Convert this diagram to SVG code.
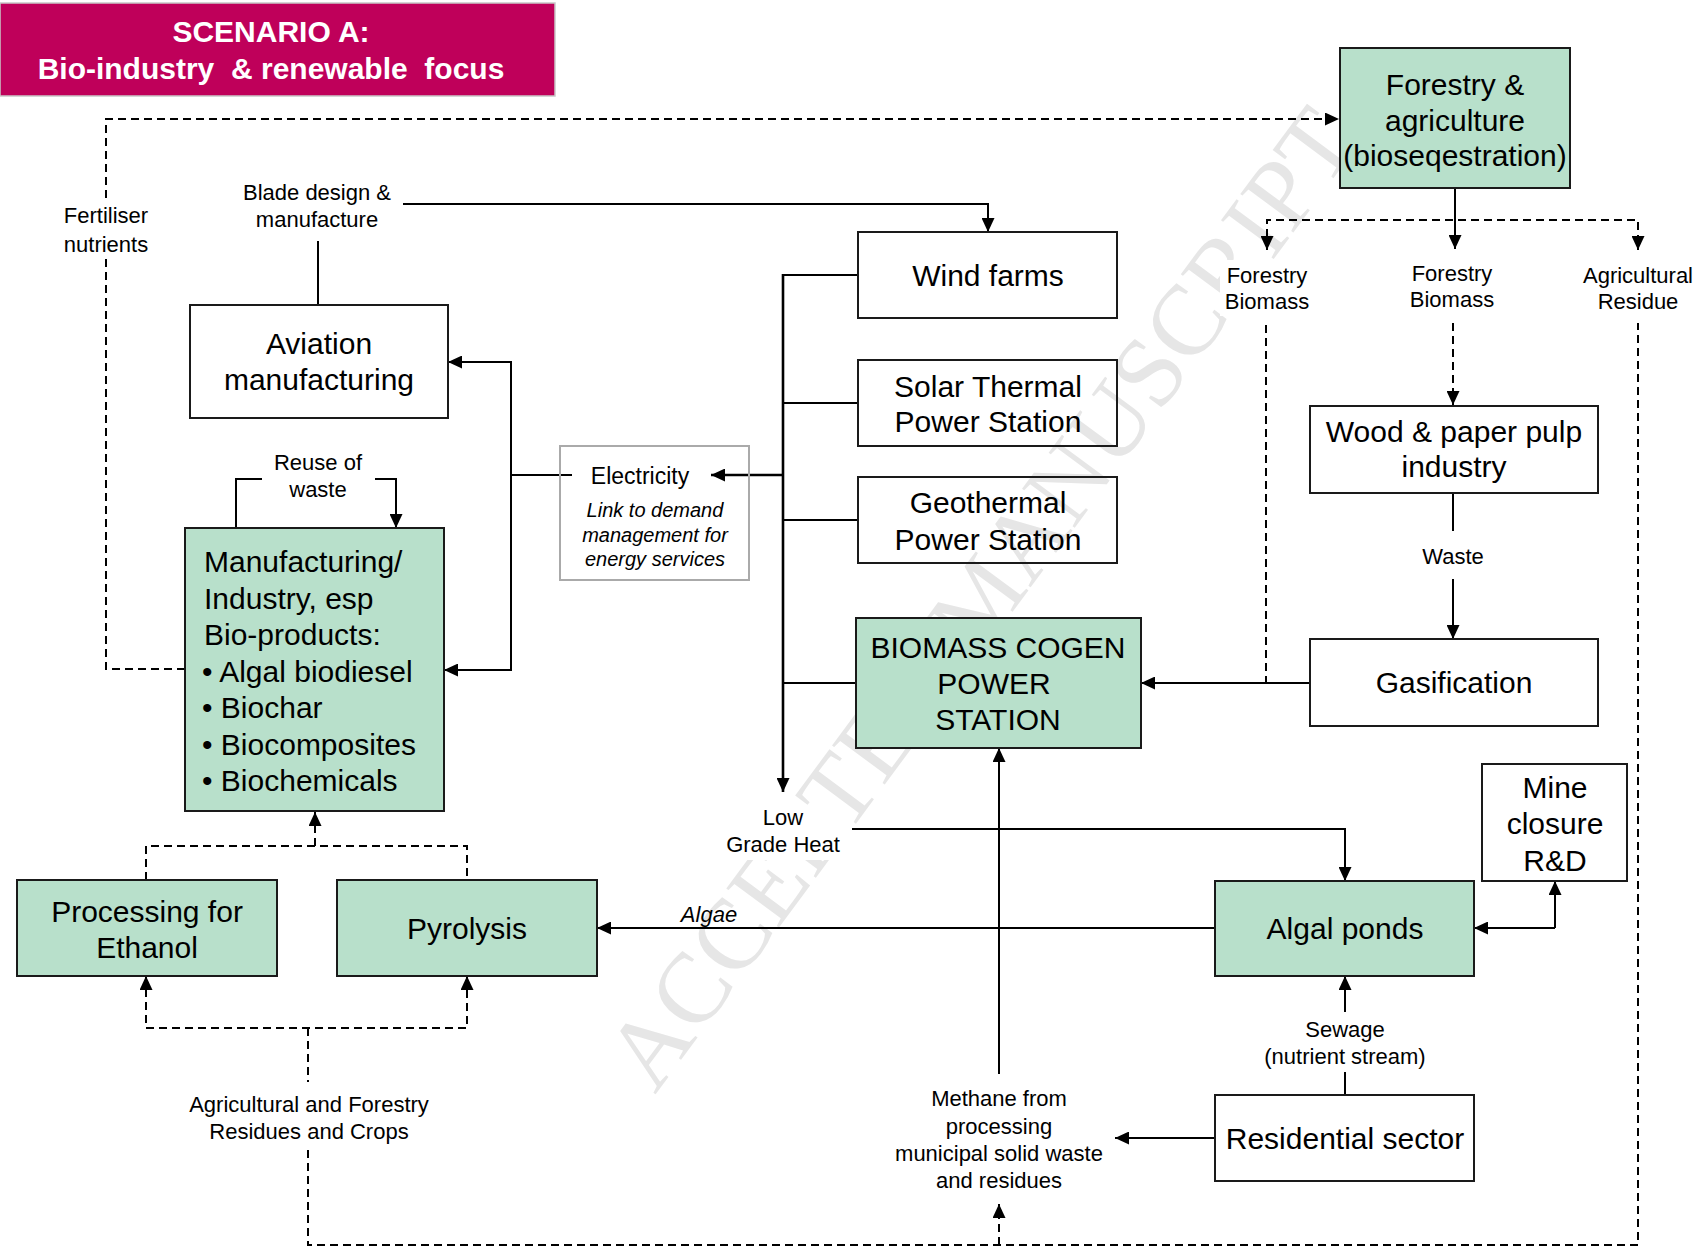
<svg xmlns="http://www.w3.org/2000/svg" width="1698" height="1250" viewBox="0 0 1698 1250">
<style>
text{font-family:"Liberation Sans",Arial,sans-serif;fill:#000}
.n{font-size:30px;text-anchor:middle}
.l{font-size:22px;text-anchor:middle}
.i{font-size:20px;font-style:italic;text-anchor:middle}
.g{fill:#B8E0CB;stroke:#1a1a1a;stroke-width:2}
.w{fill:none;stroke:#1a1a1a;stroke-width:2}
.s{fill:none;stroke:#000;stroke-width:2}
.b{fill:none;stroke:#000;stroke-width:2.6}
.d{fill:none;stroke:#000;stroke-width:2;stroke-dasharray:8 5}
.wm{font-family:"Liberation Serif","Times New Roman",serif;font-size:100px;fill:#e6e6e6}
</style>
<defs>
<marker id="a" markerWidth="14" markerHeight="13" refX="14" refY="6.5" orient="auto" markerUnits="userSpaceOnUse"><path d="M0,0 L14,6.5 L0,13 z" fill="#000" stroke="none"/></marker>
</defs>
<rect width="1698" height="1250" fill="#fff"/>
<text class="wm" transform="translate(655,1095) rotate(-53.5)">ACCEPTED MANUSCRIPT</text>

<g id="title">
<rect x="0" y="3" width="555" height="93" fill="#BF005A" stroke="#c8c8c8" stroke-width="1.5"/>
<text x="271" y="42" font-size="30" font-weight="bold" text-anchor="middle" style="fill:#fff">SCENARIO A:</text>
<text x="271" y="79" font-size="30" font-weight="bold" text-anchor="middle" style="fill:#fff;white-space:pre">Bio-industry  &amp; renewable  focus</text>
</g>

<g id="connectors">
<!-- fertiliser loop -->
<polyline class="d" points="185,669 106,669 106,258"/>
<polyline class="d" points="106,198 106,119 1339,119" marker-end="url(#a)"/>
<!-- blade design -->
<polyline class="s" points="403,204 988,204 988,232" marker-end="url(#a)"/>
<line class="s" x1="318" y1="241" x2="318" y2="305"/>
<!-- reuse of waste -->
<polyline class="s" points="236,528 236,479 262,479"/>
<polyline class="s" points="375,479 396,479 396,528" marker-end="url(#a)"/>
<!-- electricity distribution -->
<polyline class="s" points="511,475 511,362 448,362" marker-end="url(#a)"/>
<polyline class="s" points="511,475 511,670 444,670" marker-end="url(#a)"/>
<line class="s" x1="511" y1="475" x2="572" y2="475"/>
<line class="b" x1="783" y1="475" x2="711" y2="475" marker-end="url(#a)"/>
<line class="b" x1="783" y1="274" x2="783" y2="792" marker-end="url(#a)"/>
<line class="s" x1="783" y1="275" x2="858" y2="275"/>
<line class="s" x1="783" y1="403" x2="858" y2="403"/>
<line class="s" x1="783" y1="520" x2="858" y2="520"/>
<line class="s" x1="783" y1="683" x2="856" y2="683"/>
<!-- low grade heat -->
<polyline class="s" points="852,829 1345,829 1345,881" marker-end="url(#a)"/>
<!-- algae -->
<line class="s" x1="1215" y1="928" x2="597" y2="928" marker-end="url(#a)"/>
<!-- mine closure -->
<line class="s" x1="1555" y1="928" x2="1555" y2="881" marker-end="url(#a)"/>
<polyline class="s" points="1555,928 1474,928" marker-end="url(#a)"/>
<!-- methane -->
<line class="s" x1="999" y1="1074" x2="999" y2="748" marker-end="url(#a)"/>
<line class="s" x1="1215" y1="1138" x2="1115" y2="1138" marker-end="url(#a)"/>
<!-- sewage -->
<line class="s" x1="1345" y1="1095" x2="1345" y2="1072"/>
<line class="s" x1="1345" y1="1012" x2="1345" y2="976" marker-end="url(#a)"/>
<!-- forestry branches -->
<line class="s" x1="1455" y1="187" x2="1455" y2="249" marker-end="url(#a)"/>
<polyline class="d" points="1267,250 1267,220 1638,220 1638,250"/>
<line class="s" x1="1267" y1="236" x2="1267" y2="250" marker-end="url(#a)"/>
<line class="s" x1="1638" y1="236" x2="1638" y2="250" marker-end="url(#a)"/>
<line class="d" x1="1266" y1="325" x2="1266" y2="683"/>
<line class="d" x1="1453" y1="323" x2="1453" y2="405" marker-end="url(#a)"/>
<line class="s" x1="1453" y1="492" x2="1453" y2="531"/>
<line class="s" x1="1453" y1="579" x2="1453" y2="639" marker-end="url(#a)"/>
<line class="s" x1="1310" y1="683" x2="1141" y2="683" marker-end="url(#a)"/>
<!-- bio processing -->
<polyline class="d" points="146,880 146,846 467,846 467,880"/>
<line class="d" x1="315" y1="846" x2="315" y2="812" marker-end="url(#a)"/>
<polyline class="d" points="146,976 146,1028 467,1028 467,976"/>
<line class="s" x1="146" y1="992" x2="146" y2="976" marker-end="url(#a)"/>
<line class="s" x1="467" y1="992" x2="467" y2="976" marker-end="url(#a)"/>
<line class="d" x1="308" y1="1028" x2="308" y2="1082"/>
<polyline class="d" points="308,1150 308,1245 1638,1245 1638,323"/>
<line class="d" x1="999" y1="1245" x2="999" y2="1204" marker-end="url(#a)"/>
</g>

<g id="labels">
<text class="l" x="106" y="223">Fertiliser</text>
<text class="l" x="106" y="252">nutrients</text>
<text class="l" x="317" y="200">Blade design &amp;</text>
<text class="l" x="317" y="227">manufacture</text>
<text class="l" x="318" y="470">Reuse of</text>
<text class="l" x="318" y="497">waste</text>
<rect x="720" y="806" width="128" height="54" fill="#fff"/>
<text class="l" x="783" y="825">Low</text>
<text class="l" x="783" y="852">Grade Heat</text>
<text class="l" x="709" y="922" font-style="italic">Algae</text>
<text class="l" x="999" y="1106">Methane from</text>
<text class="l" x="999" y="1134">processing</text>
<text class="l" x="999" y="1161">municipal solid waste</text>
<text class="l" x="999" y="1188">and residues</text>
<text class="l" x="1345" y="1037">Sewage</text>
<text class="l" x="1345" y="1064">(nutrient stream)</text>
<text class="l" x="309" y="1112">Agricultural and Forestry</text>
<text class="l" x="309" y="1139">Residues and Crops</text>
<rect x="1220" y="260" width="94" height="56" fill="#fff"/>
<text class="l" x="1267" y="283">Forestry</text>
<text class="l" x="1267" y="309">Biomass</text>
<text class="l" x="1452" y="281">Forestry</text>
<text class="l" x="1452" y="307">Biomass</text>
<text class="l" x="1638" y="283">Agricultural</text>
<text class="l" x="1638" y="309">Residue</text>
<text class="l" x="1453" y="564">Waste</text>
</g>

<g id="forestry-agriculture">
<rect class="g" x="1340" y="48" width="230" height="140"/>
<text class="n" x="1455" y="95">Forestry &amp;</text>
<text class="n" x="1455" y="131">agriculture</text>
<text class="n" x="1455" y="166">(bioseqestration)</text>
</g>
<g id="aviation">
<rect class="w" x="190" y="305" width="258" height="113"/>
<text class="n" x="319" y="354">Aviation</text>
<text class="n" x="319" y="390">manufacturing</text>
</g>
<g id="manufacturing">
<rect class="g" x="185" y="528" width="259" height="283"/>
<text x="204" y="572" font-size="30">Manufacturing/</text>
<text x="204" y="609" font-size="30">Industry, esp</text>
<text x="204" y="645" font-size="30">Bio-products:</text>
<text x="202" y="682" font-size="30">• Algal biodiesel</text>
<text x="202" y="718" font-size="30">• Biochar</text>
<text x="202" y="755" font-size="30">• Biocomposites</text>
<text x="202" y="791" font-size="30">• Biochemicals</text>
</g>
<g id="electricity">
<rect x="560" y="446" width="189" height="134" fill="none" stroke="#aaa" stroke-width="2"/>
<text x="640" y="484" font-size="23" text-anchor="middle">Electricity</text>
<text class="i" x="655" y="517">Link to demand</text>
<text class="i" x="655" y="542">management for</text>
<text class="i" x="655" y="566">energy services</text>
</g>
<g id="wind-farms">
<rect class="w" x="858" y="232" width="259" height="86"/>
<text class="n" x="988" y="286">Wind farms</text>
</g>
<g id="solar-thermal">
<rect class="w" x="858" y="360" width="259" height="86"/>
<text class="n" x="988" y="397">Solar Thermal</text>
<text class="n" x="988" y="432">Power Station</text>
</g>
<g id="geothermal">
<rect class="w" x="858" y="477" width="259" height="86"/>
<text class="n" x="988" y="513">Geothermal</text>
<text class="n" x="988" y="550">Power Station</text>
</g>
<g id="biomass-cogen">
<rect class="g" x="856" y="618" width="285" height="130"/>
<text class="n" x="998" y="658">BIOMASS COGEN</text>
<text class="n" x="994" y="694">POWER</text>
<text class="n" x="998" y="730">STATION</text>
</g>
<g id="wood-paper">
<rect class="w" x="1310" y="406" width="288" height="87"/>
<text class="n" x="1454" y="442">Wood &amp; paper pulp</text>
<text class="n" x="1454" y="477">industry</text>
</g>
<g id="gasification">
<rect class="w" x="1310" y="639" width="288" height="87"/>
<text class="n" x="1454" y="693">Gasification</text>
</g>
<g id="mine-closure">
<rect class="w" x="1482" y="764" width="145" height="117"/>
<text class="n" x="1555" y="798">Mine</text>
<text class="n" x="1555" y="834">closure</text>
<text class="n" x="1555" y="871">R&amp;D</text>
</g>
<g id="algal-ponds">
<rect class="g" x="1215" y="881" width="259" height="95"/>
<text class="n" x="1345" y="939">Algal ponds</text>
</g>
<g id="pyrolysis">
<rect class="g" x="337" y="880" width="260" height="96"/>
<text class="n" x="467" y="939">Pyrolysis</text>
</g>
<g id="ethanol">
<rect class="g" x="17" y="880" width="260" height="96"/>
<text class="n" x="147" y="922">Processing for</text>
<text class="n" x="147" y="958">Ethanol</text>
</g>
<g id="residential">
<rect class="w" x="1215" y="1095" width="259" height="86"/>
<text class="n" x="1345" y="1149">Residential sector</text>
</g>
</svg>
